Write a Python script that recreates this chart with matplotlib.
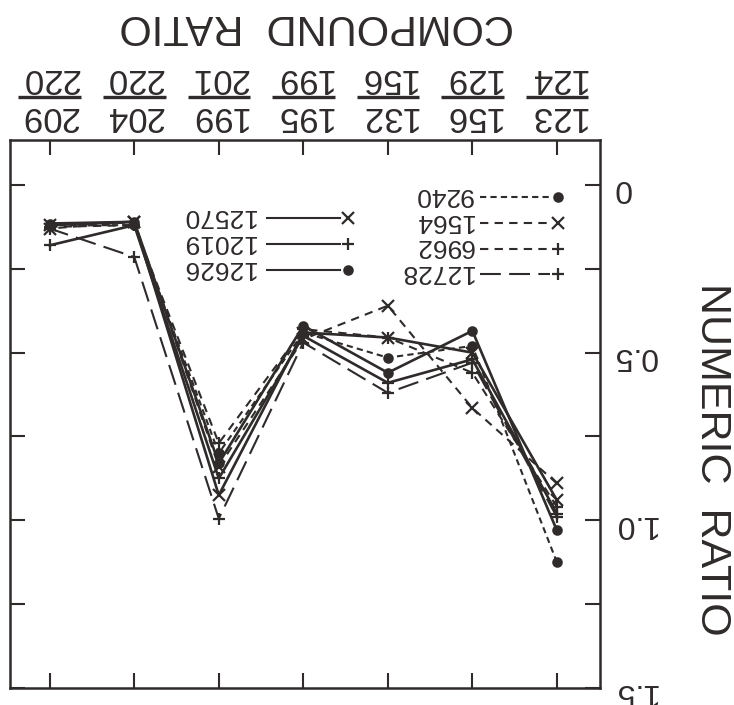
import numpy as np
import matplotlib.pyplot as plt
from matplotlib.ticker import MultipleLocator

plt.rcParams['font.family'] = ['Liberation Sans', 'DejaVu Sans']
INK = '#2f2b2b'

# compound ratios on the x axis (numerator / denominator)
numerators = [123, 156, 132, 195, 199, 204, 209]
denominators = [124, 129, 156, 199, 201, 220, 220]

# numeric ratio for each sample
s12570 = [0.94, 0.50, 0.455, 0.44, 0.925, 0.11, 0.12]
s12019 = [0.98, 0.52, 0.59, 0.45, 0.875, 0.12, 0.18]
s12626 = [1.03, 0.435, 0.56, 0.42, 0.83, 0.11, 0.115]
s9240 = [1.125, 0.48, 0.515, 0.44, 0.80, 0.12, 0.12]
s1564 = [0.89, 0.665, 0.36, 0.46, 0.84, 0.11, 0.13]
s6962 = [0.96, 0.56, 0.455, 0.43, 0.77, 0.12, 0.125]
s12728 = [0.99, 0.53, 0.62, 0.47, 0.995, 0.215, 0.13]

solid = '-'
fine = (0, (3, 2))
dashed = (0, (4, 3))
longdash = (0, (10, 4))

series = [
    ("12570", s12570, solid, 'x'),
    ("12019", s12019, solid, '+'),
    ("12626", s12626, solid, 'o'),
    ("9240", s9240, fine, 'o'),
    ("1564", s1564, dashed, 'x'),
    ("6962", s6962, dashed, '+'),
    ("12728", s12728, longdash, '+'),
]

fig = plt.figure(figsize=(7.34, 7.05), dpi=100)
ax = fig.add_axes([10 / 734, 17 / 705, 590 / 734, 548 / 705])

x = np.arange(len(numerators))
for name, vals, ls, mk in series:
    ms = 6 if mk == 'o' else 8
    lw = 1.9 if ls == solid else 1.5
    ax.plot(x, vals, color=INK, ls=ls, lw=lw, marker=mk, ms=ms, mew=1.6)

# the whole sheet is printed turned over
ax.set_xlim(6.47, -0.51)
ax.set_ylim(1.5, -0.134)

for sp in ax.spines.values():
    sp.set_linewidth(1.8)
    sp.set_color(INK)

ax.set_xticks(x)
ax.set_xticklabels([])
ax.tick_params(axis='x', which='both', top=True, bottom=True, direction='in',
               length=11, width=1.5, color=INK)
ax.yaxis.tick_right()
ax.set_yticks([0, 0.5, 1.0, 1.5])
ax.set_yticklabels(["0", "0.5", "1.0", "1.5"])
ax.yaxis.set_minor_locator(MultipleLocator(0.25))
ax.tick_params(axis='y', which='both', left=True, right=True, direction='in',
               length=11, width=1.5, color=INK, labelright=True, labelleft=False)
ax.tick_params(axis='y', labelsize=23, labelcolor=INK, labelrotation=180, pad=9)

# fraction labels along the top
tr = ax.get_xaxis_transform()
for xi, n, d in zip(x, numerators, denominators):
    ax.text(xi, 1.113, str(d), transform=tr, rotation=180, ha='center', va='center',
            fontsize=25, color=INK, clip_on=False)
    ax.text(xi, 1.042, str(n), transform=tr, rotation=180, ha='center', va='center',
            fontsize=25, color=INK, clip_on=False)
    ax.plot([xi - 0.37, xi + 0.37], [1.078, 1.078], transform=tr, color=INK,
            lw=2.4, clip_on=False, solid_capstyle='butt')

ax.text(0.519, 1.208, "COMPOUND  RATIO", transform=ax.transAxes, rotation=180,
        ha='center', va='center', fontsize=30, color=INK)
fig.text(0.970, 0.348, "NUMERIC  RATIO", rotation=270, ha='center', va='center',
         fontsize=31, color=INK)

# key, two columns
def key(rows, tx, x0, x1, y0, dy):
    for i, (name, vals, ls, mk) in enumerate(rows):
        y = y0 - i * dy
        ax.plot([x0, x1], [y, y], transform=ax.transAxes, color=INK, ls=ls, lw=1.5)
        ms = 6 if mk == 'o' else 8
        ax.plot([x1 + 0.014], [y], transform=ax.transAxes, color=INK, ls='none',
                marker=mk, ms=ms, mew=1.6)
        ax.text(tx, y + 0.004, name, transform=ax.transAxes, rotation=180, ha='right',
                va='center', fontsize=19, color=INK)

key(series[:3], 0.415, 0.436, 0.559, 0.858, 0.048)
key(series[3:], 0.785, 0.797, 0.915, 0.896, 0.047)

fig.savefig("out.png", dpi=100, facecolor='white')
